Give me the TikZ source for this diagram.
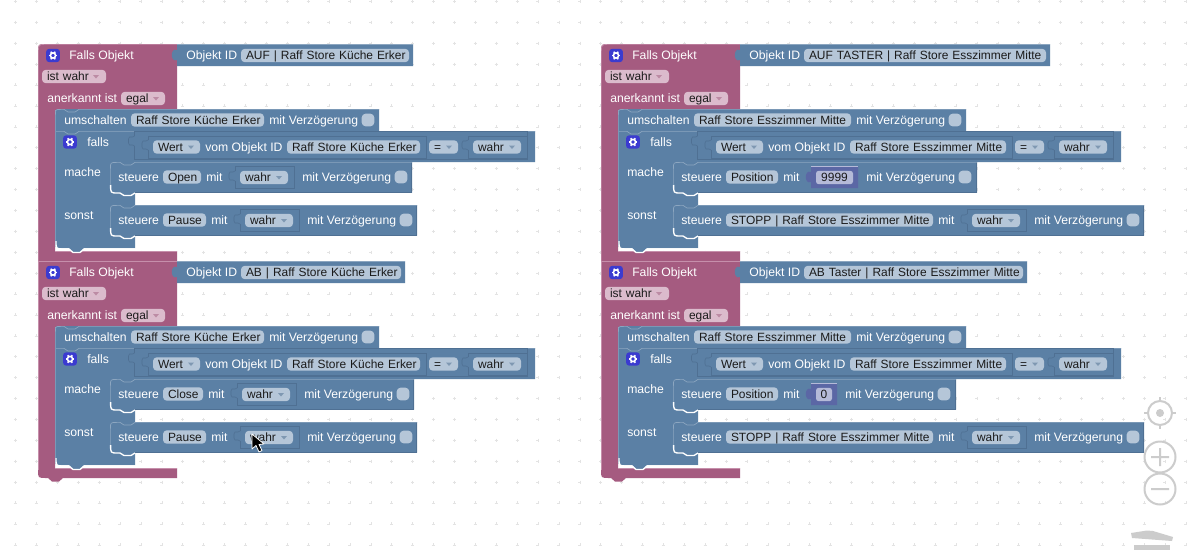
\documentclass[tikz,border=0pt]{standalone}
\usepackage{fontspec}
\setmainfont{Liberation Sans}
\usetikzlibrary{calc}
\definecolor{pinkblk}{HTML}{A55B80}
\definecolor{pinklt}{HTML}{C68FAB}
\definecolor{pinkpill}{HTML}{DBBBCC}
\definecolor{pinkarrow}{HTML}{BC8BA4}
\definecolor{blueblk}{HTML}{5B80A5}
\definecolor{bluelt}{HTML}{8CA6C0}
\definecolor{bluedk}{HTML}{4F7093}
\definecolor{bluepill}{HTML}{B5C6D8}
\definecolor{bluearrow}{HTML}{7F98B2}
\definecolor{numblk}{HTML}{5B67A5}
\definecolor{numpill}{HTML}{B5BAD8}
\definecolor{iconblue}{HTML}{3B3BD0}
\definecolor{textdark}{HTML}{1A1A1A}
\definecolor{widget}{HTML}{CCCCCC}
\tikzset{
txt/.style={anchor=base west,text=white,inner sep=0pt,font=\fontsize{9.15}{11}\selectfont},
pillshape/.style={rounded corners=2.8pt,inner ysep=0pt,inner xsep=3.75pt,minimum height=10pt,text height=8pt,text depth=2pt,align=left,text=textdark,font=\fontsize{8.96}{11}\selectfont},
bluetag/.style={pillshape,fill=bluepill},
pinktag/.style={pillshape,fill=pinkpill},
numtag/.style={pillshape,fill=numpill,rounded corners=2pt},
checkbx/.style={fill=bluepill,rounded corners=2.8pt,inner sep=0pt,minimum size=9.4pt},
iconbox/.style={fill=iconblue,rounded corners=2pt,inner sep=0pt,minimum width=10.2pt,minimum height=9.8pt},
inputline/.style={draw=bluedk,line width=.45pt},
hilite/.style={draw=bluelt,line width=.5pt},
gridmark/.style={draw=gray!22,line width=.3pt},
zoomring/.style={draw=widget,line width=1.5pt},
}
% pill: style, name, left, right, centre y, text
\newcommand{\tagnode}[6]{\node[#1,text width={((#4)-(#3)-10)*.75pt}] (#2) at ({((#3)+(#4))/2},#5) {\rlap{#6}};}
% small dropdown mark: colour, x, centre y
\newcommand{\dropmark}[3]{\fill[#1] (#2-3,#3-1.5) -- (#2+3,#3-1.5) -- (#2,#3+2) -- cycle;}
% left socket of a value input: colour options, x, y
\newcommand{\socket}[3]{\draw[#1] (#2,#3) -- (#2-2,#3+1) -- (#2-5,#3+1) -- (#2-6,#3+3) -- (#2-6,#3+7) -- (#2-5,#3+9) -- (#2-2,#3+9) -- (#2,#3+10);}
\newcommand{\gearicon}[3]{%
  \node[iconbox] (#1) at (#2,#3) {};
  \foreach \ga in {0,60,...,300}
    \draw[white,line width=1.1pt] ($(#2,#3)+(\ga:2.6)$) -- ($(#2,#3)+(\ga:4.4)$);
  \draw[white,line width=1.2pt] (#2,#3) circle (2.6);
}
% pink frame with its three rows: top radius, bottom radius, id text, right of id block
\newcommand{\fallshead}[4]{%
  \fill[pinkblk] (38,44+#1) .. controls (38,44) .. (38+#1,44) -- (177,44) -- (177,110) -- (55,110) -- (55,251)
    -- (177,251) -- (177,261) -- (63,261) -- (59,264.5) -- (52,264.5) -- (48,261) -- (38+#2,261)
    .. controls (38,261) .. (38,261-#2) -- cycle;
  \draw[pinklt,line width=.5pt] (38.4,261-#2) -- (38.4,44.4+#1) .. controls (38.4,44.4) .. (38.4+#1,44.4) -- (177,44.4);
  \draw[pinklt,line width=.5pt] (55,251.4) -- (177,251.4);
  \gearicon{icon_head}{53}{55.5}
  \node[txt] (lbl_head) at (69,59) {Falls Objekt};
  \tagnode{pinktag}{tag_state}{42}{106}{76.5}{ist wahr}
  \dropmark{pinkarrow}{96}{76.5}
  \node[txt] (lbl_ack) at (47,102) {anerkannt ist};
  \tagnode{pinktag}{tag_ack}{121}{165}{98.5}{egal}
  \dropmark{pinkarrow}{156}{98.5}
  \fill[blueblk] (177,44) -- (#4,44) -- (#4,66) -- (177,66) -- (177,60) .. controls (170,63) and (170,47) .. (177,50) -- cycle;
  \draw[hilite] (177,44.4) -- (#4,44.4);
  \node[txt] (lbl_id) at (186,59) {Objekt ID};
  \tagnode{bluetag}{tag_id}{241}{#4-4}{55.5}{#3}
}
% switch row and condition row: switch text, its pill right, condition text, its pill right
\newcommand{\fallsbody}[4]{%
  \fill[blueblk] (55,115) .. controls (55,109) .. (61,109) -- (#2+115,109) -- (#2+115,131) -- (#4+115,131) -- (#4+115,162)
    -- (135,162) -- (135,248) -- (84,248) -- (80,252) -- (73,252) -- (69,248) -- (62,248) .. controls (55,248) .. (55,241) -- cycle;
  \draw[hilite] (55.4,241) -- (55.4,115) .. controls (55.4,109.4) .. (61,109.4) -- (64,109.4) -- (68,112) -- (75,112) -- (79,109.4) -- (#2+115,109.4);
  \draw[hilite] (56,131.4) -- (64,131.4) -- (68,134) -- (75,134) -- (79,131.4) -- (#2+115,131.4) (#2+115,131.4) -- (#4+115,131.4);
  \draw[white,line width=1pt] (56,241) .. controls (56,249) .. (64,249) -- (69,249) -- (73,252.5) -- (80,252.5) -- (84,249) -- (135,249);
  \node[txt] (lbl_switch) at (64,124) {umschalten};
  \tagnode{bluetag}{tag_switch}{131}{#2}{120}{#1}
  \node[txt] (lbl_switchdelay) at (#2+5,124) {mit Verzögerung};
  \node[checkbx] (box_switch) at (#2+104,120) {};
  \gearicon{icon_if}{70}{142}
  \node[txt] (lbl_if) at (87,146) {falls};
  \draw[inputline] (134.5,136) -- (134.5,131.5) -- (#4+107,131.5) -- (#4+107,159) -- (134.5,159) -- (134.5,146);
  \socket{inputline}{134.5}{136}
  \draw[inputline] (148,140) -- (148,136) -- (#4+6,136) -- (#4+6,158) -- (148,158) -- (148,150);
  \socket{inputline}{148}{140}
  \tagnode{bluetag}{tag_value}{153}{200}{147}{Wert}
  \dropmark{bluearrow}{191}{147}
  \node[txt] (lbl_fromid) at (205,151) {vom Objekt ID};
  \tagnode{bluetag}{tag_obj}{287}{#4}{147}{#3}
  \tagnode{bluetag}{tag_eq}{#4+9}{#4+38}{147}{=}
  \dropmark{bluearrow}{#4+29}{147}
  \draw[inputline] (#4+48,140) -- (#4+48,136) -- (#4+107,136) -- (#4+107,158) -- (#4+48,158) -- (#4+48,150);
  \socket{inputline}{#4+48}{140}
  \tagnode{bluetag}{tag_cmp}{#4+53}{#4+101}{147}{wahr}
  \dropmark{bluearrow}{#4+92}{147}
  \node[txt] (lbl_then) at (64,176) {mache};
  \node[txt] (lbl_else) at (64,219) {sonst};
}
% statement outline: top y, right edge
\newcommand{\stmtshape}[2]{%
  \fill[blueblk] (110,#1+7) .. controls (110,#1) .. (117,#1) -- (#2,#1) -- (#2,#1+30.5) -- (110,#1+30.5) -- cycle;
  \draw[bluedk,line width=.5pt] (#2-.3,#1) -- (#2-.3,#1+30.2) -- (135,#1+30.2);
  \draw[hilite] (110.4,#1+23) -- (110.4,#1+7) .. controls (110.4,#1+.4) .. (117,#1+.4) -- (120,#1+.4) -- (124,#1+3) -- (131,#1+3) -- (135,#1+.4) -- (#2,#1+.4);
  \draw[white,line width=1pt] (110.6,#1+23) .. controls (110.6,#1+31) .. (118,#1+31) -- (120,#1+31) -- (124,#1+33.5) -- (131,#1+33.5) -- (135,#1+31);
}
% statement with a wahr input: name, top y, label, pill right
\newcommand{\steuerewahr}[4]{%
  \stmtshape{#2}{#4+211}
  \node[txt] (#1_cmd) at (118,#2+19) {steuere};
  \tagnode{bluetag}{#1_tag}{163}{#4}{#2+15}{#3}
  \node[txt] (#1_with) at (#4+5,#2+19) {mit};
  \draw[inputline] (#4+34,#2+9) -- (#4+34,#2+4) -- (#4+93,#2+4) -- (#4+93,#2+26) -- (#4+34,#2+26) -- (#4+34,#2+19);
  \socket{inputline}{#4+34}{#2+9}
  \tagnode{bluetag}{#1_val}{#4+39}{#4+87}{#2+15.5}{wahr}
  \dropmark{bluearrow}{#4+78}{#2+15.5}
  \node[txt] (#1_delay) at (#4+101,#2+19) {mit Verzögerung};
  \node[checkbx] (#1_box) at (#4+200,#2+15) {};
}
% statement with a number input: name, top y, label, pill right, number, number block right
\newcommand{\steuerenum}[6]{%
  \stmtshape{#2}{#6+119}
  \node[txt] (#1_cmd) at (118,#2+19) {steuere};
  \tagnode{bluetag}{#1_tag}{163}{#4}{#2+15}{#3}
  \node[txt] (#1_with) at (#4+5,#2+19) {mit};
  \fill[numblk] (#4+33,#2+4) -- (#6,#2+4) -- (#6,#2+26) -- (#4+33,#2+26) -- (#4+33,#2+20)
    .. controls (#4+26,#2+23) and (#4+26,#2+7) .. (#4+33,#2+10) -- cycle;
  \draw[numpill,line width=.4pt] (#4+33,#2+4.3) -- (#6,#2+4.3);
  \tagnode{numtag}{#1_val}{#4+38}{#6-5}{#2+15.5}{}
  \node[text=textdark,font=\fontsize{8.96}{11}\selectfont,inner sep=0pt] (#1_num) at ({(#4+33+#6)/2},#2+15.5) {#5};
  \node[txt] (#1_delay) at (#6+8,#2+19) {mit Verzögerung};
  \node[checkbx] (#1_box) at (#6+107,#2+15) {};
}
\begin{document}
\begin{tikzpicture}[x=.75pt,y=-.75pt]
\useasboundingbox (0,0) rectangle (1193,550);
\fill[white] (0,0) rectangle (1193,550);
% workspace dots
\foreach \gx in {0,...,56}
  \foreach \gy in {0,...,26}
    \draw[gridmark] (15.4+20.9*\gx-1.5,1.3+20.9*\gy) -- +(3,0) (15.4+20.9*\gx,1.3+20.9*\gy-1.5) -- +(0,3);
\begin{scope}[name prefix=ka_]
  \fallshead{8}{0}{AUF | Raff Store Küche Erker}{413}
  \fallsbody{Raff Store Küche Erker}{264}{Raff Store Küche Erker}{420}
  \steuerewahr{sa}{162}{Open}{201}
  \steuerewahr{sb}{205}{Pause}{206}
\end{scope}
\begin{scope}[shift={(0,217)},name prefix=kb_]
  \fallshead{0}{8}{AB | Raff Store Küche Erker}{405}
  \fallsbody{Raff Store Küche Erker}{264}{Raff Store Küche Erker}{420}
  \steuerewahr{sa}{162}{Close}{203}
  \steuerewahr{sb}{205}{Pause}{206}
\end{scope}
\begin{scope}[shift={(563,0)},name prefix=ea_]
  \fallshead{8}{0}{AUF TASTER | Raff Store Esszimmer Mitte}{487}
  \fallsbody{Raff Store Esszimmer Mitte}{288}{Raff Store Esszimmer Mitte}{443}
  \steuerenum{sa}{162}{Position}{215}{9999}{295}
  \steuerewahr{sb}{205}{STOPP | Raff Store Esszimmer Mitte}{370}
\end{scope}
\begin{scope}[shift={(563,217)},name prefix=eb_]
  \fallshead{0}{8}{AB Taster | Raff Store Esszimmer Mitte}{464}
  \fallsbody{Raff Store Esszimmer Mitte}{288}{Raff Store Esszimmer Mitte}{443}
  \steuerenum{sa}{162}{Position}{215}{0}{274}
  \steuerewahr{sb}{205}{STOPP | Raff Store Esszimmer Mitte}{370}
\end{scope}
% mouse pointer
\draw[white,fill=black,line width=.6pt,line join=round] (252,434) -- (252,449) -- (256,445.5) -- (259,452) -- (262,450.5) -- (259,444.5) -- (264,444) -- cycle;
% zoom and trash widgets
\draw[zoomring] (1160,413) circle (12);
\fill[widget] (1160,413) circle (4);
\foreach \ga in {0,90,180,270}
  \draw[zoomring] ($(1160,413)+(\ga:12)$) -- ($(1160,413)+(\ga:16)$);
\draw[zoomring] (1160,457) circle (15.5) (1151,457) -- (1169,457) (1160,448) -- (1160,466);
\draw[zoomring] (1160,489) circle (15.5) (1151,489) -- (1169,489);
\fill[widget] (1131,533) -- (1147,530.5) -- (1153,531) -- (1173,537) -- (1172,541) -- (1132,538) -- cycle;
\fill[widget] (1134,545) rectangle (1170,550);
\end{tikzpicture}
\end{document}
